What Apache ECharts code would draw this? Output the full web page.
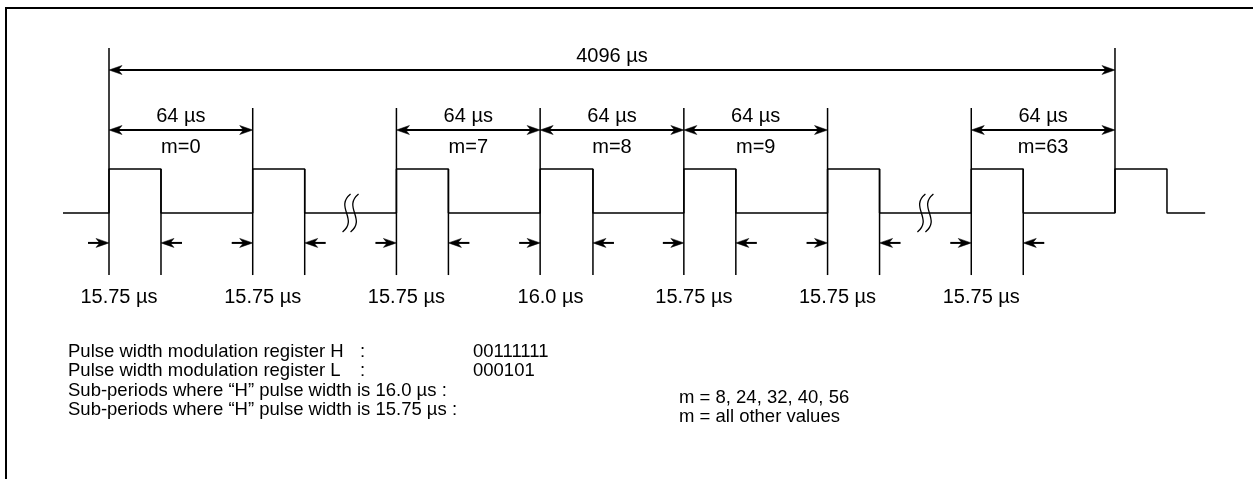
<!DOCTYPE html>
<html><head><meta charset="utf-8">
<script src="https://cdn.jsdelivr.net/npm/echarts@6/dist/echarts.min.js"></script>
<style>html,body{margin:0;padding:0;background:#fff}#c{width:1253px;height:479px}</style>
</head><body><div id="c"></div>
<script>
// ---------------- data ----------------
const periodUs = 64;
const cycleLabel = '4096 µs';
const periodLabel = '64 µs';
const slotNames = ['m=0', 'm=1', 'm=7', 'm=8', 'm=9', 'm=10', 'm=63', 'm=0'];
const slotNameShown = [1, 0, 1, 1, 1, 0, 1, 0];
const pulseWidthUs = [15.75, 15.75, 15.75, 16.0, 15.75, 15.75, 15.75, 15.75];
const widthLabels = ['15.75 µs', '15.75 µs', '15.75 µs', '16.0 µs', '15.75 µs', '15.75 µs', '15.75 µs', ''];
const periodArrowSlots = [0, 2, 3, 4, 6];
const breakAfterSlots = [1, 5];
const registerLabels = ['Pulse width modulation register H', 'Pulse width modulation register L'];
const registerValues = ['00111111', '000101'];
const subPeriodLabels = ['Sub-periods where \u201CH\u201D pulse width is 16.0 µs :', 'Sub-periods where \u201CH\u201D pulse width is 15.75 µs :'];
const subPeriodValues = ['m = 8, 24, 32, 40, 56', 'm = all other values'];

// ---------------- layout / style ----------------
const W = 1253, H = 479;
const PX_PER_US = 2.2455, X0_PX = 109;          // drawing scale (schematic)
const PULSE_STRETCH = 1.47;                       // pulses drawn wider than scale
const BASE_PX = 213, PX_PER_LEVEL = 44;
const LEAD_IN = 20.5, LEAD_OUT = 17;
const LV = { high: 1, topCycle: 3.75, topSlot: 2.386, cycleArrow: 3.25, slotArrow: 1.886,
  widthArrow: -0.68, extBottom: -1.41, cycleText: 3.56, slotText: 2.2, mText: 1.48, widthText: -1.93 };
const FONT = '"Liberation Sans", Arial, Helvetica, sans-serif';
const FS = 20, FS_NOTE = 18.5;
const INK = '#000';

const chart = echarts.init(document.getElementById('c'), null, { renderer: 'canvas' });
const nSlots = slotNames.length;
const rise = i => i * periodUs;
const fall = i => i * periodUs + pulseWidthUs[i] * PULSE_STRETCH;

// waveform
const wave = [[-LEAD_IN, 0]];
for (let i = 0; i < nSlots; i++) {
  wave.push([rise(i), 0], [rise(i), LV.high], [fall(i), LV.high], [fall(i), 0]);
}
wave.push([fall(nSlots - 1) + LEAD_OUT, 0]);

// extension lines [x, yTop, yBottom]
const ext = [];
for (let i = 0; i < nSlots; i++) {
  const top = (i === 0 || i === nSlots - 1) ? LV.topCycle : LV.topSlot;
  const bottom = (i === nSlots - 1) ? 0 : LV.extBottom;
  ext.push([rise(i), top, bottom]);
  if (i < nSlots - 1) ext.push([fall(i), LV.high, LV.extBottom]);
}

// double arrows [x1, x2, y]
const dims = [[rise(0), rise(nSlots - 1), LV.cycleArrow]];
periodArrowSlots.forEach(i => dims.push([rise(i), rise(i + 1), LV.slotArrow]));

// short arrows [xTarget, dir, y]
const shorts = [];
for (let i = 0; i < nSlots - 1; i++) {
  shorts.push([rise(i), 1, LV.widthArrow]);
  shorts.push([fall(i), -1, LV.widthArrow]);
}

// breaks
const breaks = breakAfterSlots.map(i => [(fall(i) + rise(i + 1)) / 2, 0]);

// texts
const texts = [];
texts.push({ x: (rise(0) + rise(nSlots - 1)) / 2, y: LV.cycleText, t: cycleLabel, dx: 0 });
periodArrowSlots.forEach(i => {
  texts.push({ x: rise(i) + periodUs / 2, y: LV.slotText, t: periodLabel, dx: 0 });
  if (slotNameShown[i]) texts.push({ x: rise(i) + periodUs / 2, y: LV.mText, t: slotNames[i], dx: 0 });
});
widthLabels.forEach((t, i) => {
  if (t) texts.push({ x: (rise(i) + fall(i)) / 2, y: LV.widthText, t: t, dx: -16 });
});

function arrowHead(tx, ty, d) {
  const L = 13, Wd = 4.5;
  return { type: 'polygon', shape: { points: [[tx, ty], [tx - d * L, ty - Wd], [tx - d * L * 0.72, ty], [tx - d * L, ty + Wd]] },
    style: { fill: INK, stroke: INK, lineWidth: 0.5 } };
}

const textTop = 352, lineGap = 19.3;
const nf = `${FS_NOTE}px ${FONT}`;
const graphics = [
  { type: 'rect', shape: { x: 6, y: 8, width: 1400, height: 600 }, style: { fill: 'none', stroke: INK, lineWidth: 2 }, z: 10 }
];
registerLabels.forEach((t, k) => {
  const y = textTop + k * lineGap;
  graphics.push({ type: 'text', x: 68, y, style: { text: t, font: nf, fill: INK, verticalAlign: 'middle' } });
  graphics.push({ type: 'text', x: 360, y, style: { text: ':', font: nf, fill: INK, verticalAlign: 'middle' } });
  graphics.push({ type: 'text', x: 473, y, style: { text: registerValues[k], font: nf, fill: INK, verticalAlign: 'middle' } });
});
subPeriodLabels.forEach((t, k) => {
  const y = textTop + (k + 2) * lineGap;
  graphics.push({ type: 'text', x: 68, y, style: { text: t, font: nf, fill: INK, verticalAlign: 'middle' } });
  graphics.push({ type: 'text', x: 679, y: y + 7, style: { text: subPeriodValues[k], font: nf, fill: INK, verticalAlign: 'middle' } });
});

chart.setOption({
  animation: false,
  backgroundColor: '#fff',
  grid: { left: 0, right: 0, top: 0, bottom: 0 },
  xAxis: { type: 'value', min: -X0_PX / PX_PER_US, max: (W - X0_PX) / PX_PER_US, show: false },
  yAxis: { type: 'value', min: (BASE_PX - H) / PX_PER_LEVEL, max: BASE_PX / PX_PER_LEVEL, show: false },
  graphic: graphics,
  series: [
    { type: 'line', data: wave, showSymbol: false, clip: false, silent: true,
      lineStyle: { color: INK, width: 1.5 } },
    { type: 'custom', data: ext, clip: false, silent: true,
      renderItem: (p, api) => {
        const a = api.coord([api.value(0), api.value(1)]), b = api.coord([api.value(0), api.value(2)]);
        return { type: 'line', shape: { x1: a[0], y1: a[1], x2: b[0], y2: b[1] }, style: { stroke: INK, lineWidth: 1.5 } };
      } },
    { type: 'custom', data: dims, clip: false, silent: true,
      renderItem: (p, api) => {
        const a = api.coord([api.value(0), api.value(2)]), b = api.coord([api.value(1), api.value(2)]);
        return { type: 'group', children: [
          { type: 'line', shape: { x1: a[0] + 4, y1: a[1], x2: b[0] - 4, y2: b[1] }, style: { stroke: INK, lineWidth: 2 } },
          arrowHead(a[0], a[1], -1), arrowHead(b[0], b[1], 1)
        ] };
      } },
    { type: 'custom', data: shorts, clip: false, silent: true,
      renderItem: (p, api) => {
        const t = api.coord([api.value(0), api.value(2)]), d = api.value(1);
        return { type: 'group', children: [
          { type: 'line', shape: { x1: t[0] - d * 21, y1: t[1], x2: t[0] - d * 4, y2: t[1] }, style: { stroke: INK, lineWidth: 2 } },
          arrowHead(t[0], t[1], d)
        ] };
      } },
    { type: 'custom', data: breaks, clip: false, silent: true,
      renderItem: (p, api) => {
        const c = api.coord([api.value(0), api.value(1)]);
        const mk = off => ({ type: 'bezierCurve', shape: { x1: c[0] + off + 4, y1: c[1] - 19, cpx1: c[0] + off - 12, cpy1: c[1] - 6,
          cpx2: c[0] + off + 12, cpy2: c[1] + 6, x2: c[0] + off - 4, y2: c[1] + 19 }, style: { stroke: INK, fill: 'none', lineWidth: 1.3 } });
        return { type: 'group', children: [mk(-4), mk(4)] };
      } },
    { type: 'custom', data: texts.map((t, i) => [t.x, t.y, i]), clip: false, silent: true,
      renderItem: (p, api) => {
        const o = texts[p.dataIndex];
        const c = api.coord([o.x, o.y]);
        return { type: 'text', x: c[0] + o.dx, y: c[1], style: { text: o.t, font: `${FS}px ${FONT}`, fill: INK, align: 'center', verticalAlign: 'middle' } };
      } }
  ]
});
</script>
</body></html>
